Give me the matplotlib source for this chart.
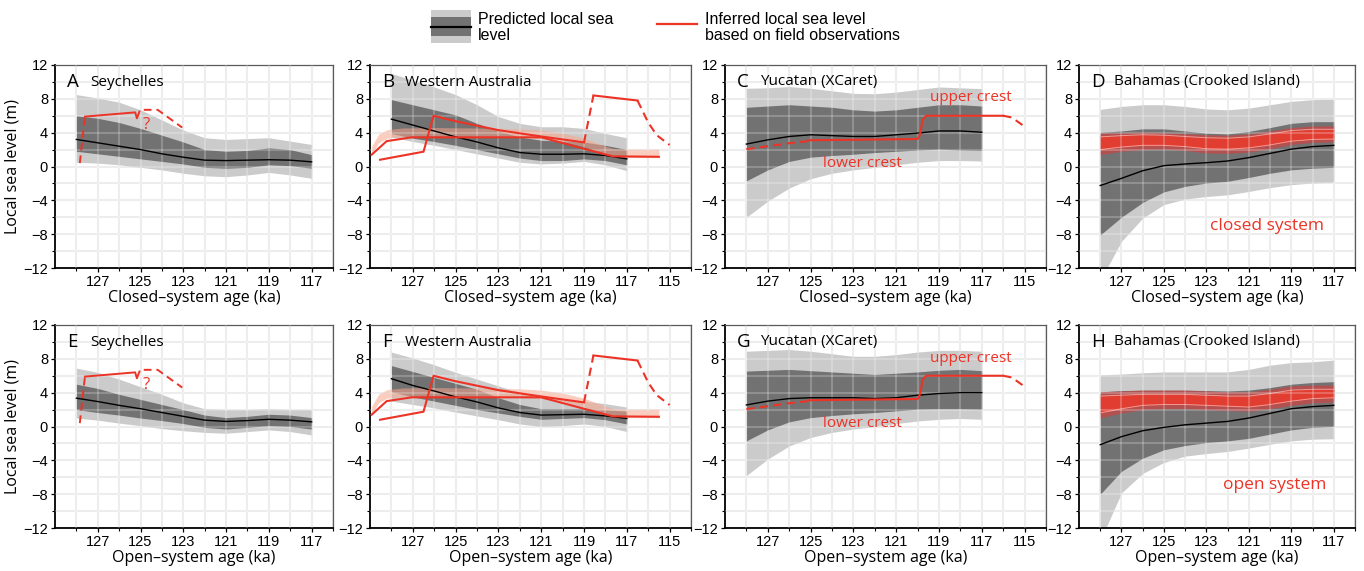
import matplotlib
matplotlib.use("Agg")
import matplotlib.pyplot as plt
from matplotlib.patches import Rectangle
from matplotlib.lines import Line2D

# ---------------------------------------------------------------- data
AGES = [128, 127, 126, 125, 124, 123, 122, 121, 120, 119, 118, 117]

# Seychelles, closed-system ages
sey_c_light_hi = [8.5, 8.1, 7.6, 6.7, 5.5, 4.3, 3.4, 3.2, 3.3, 3.4, 3.0, 2.6]
sey_c_light_lo = [0.5, 0.4, 0.2, -0.1, -0.4, -0.8, -1.1, -1.2, -1.0, -0.7, -1.0, -1.4]
sey_c_dark_hi = [6.0, 5.7, 5.2, 4.5, 3.7, 2.9, 2.0, 1.8, 1.9, 2.2, 2.0, 1.4]
sey_c_dark_lo = [1.8, 1.5, 1.2, 0.9, 0.6, 0.3, -0.1, -0.2, -0.1, 0.2, 0.1, -0.2]
sey_c_median = [3.2, 2.8, 2.4, 2.0, 1.5, 1.1, 0.75, 0.7, 0.75, 0.8, 0.75, 0.55]

# Seychelles, open-system ages
sey_o_light_hi = [6.9, 6.4, 5.6, 4.7, 3.8, 2.8, 2.1, 2.0, 2.0, 2.1, 2.0, 2.0]
sey_o_light_lo = [1.0, 0.75, 0.4, 0.1, -0.25, -0.5, -0.7, -0.8, -0.6, -0.4, -0.6, -1.0]
sey_o_dark_hi = [5.0, 4.5, 3.8, 3.2, 2.6, 2.0, 1.35, 1.05, 1.2, 1.45, 1.35, 1.05]
sey_o_dark_lo = [2.0, 1.65, 1.35, 1.0, 0.7, 0.35, -0.1, -0.3, -0.1, 0.1, 0.0, -0.3]
sey_o_median = [3.35, 2.95, 2.5, 2.1, 1.65, 1.2, 0.75, 0.6, 0.7, 0.85, 0.75, 0.55]

# Western Australia, closed-system ages
wa_c_light_hi = [11.0, 10.2, 9.4, 8.5, 7.3, 5.9, 5.1, 4.7, 4.7, 4.5, 3.9, 3.4]
wa_c_light_lo = [3.5, 2.95, 2.5, 2.0, 1.5, 1.0, 0.5, 0.3, 0.4, 0.6, 0.2, -0.5]
wa_c_dark_hi = [7.9, 7.3, 6.7, 6.1, 5.1, 4.2, 3.5, 3.1, 3.0, 2.9, 2.5, 2.0]
wa_c_dark_lo = [3.9, 3.35, 2.95, 2.5, 2.0, 1.5, 1.0, 0.7, 0.7, 0.9, 0.7, 0.2]
wa_c_median = [5.6, 4.9, 4.2, 3.5, 2.9, 2.2, 1.65, 1.45, 1.45, 1.5, 1.3, 0.9]

# Western Australia, open-system ages
wa_o_light_hi = [8.8, 8.1, 7.3, 6.4, 5.6, 4.8, 4.0, 3.5, 3.2, 3.0, 2.7, 2.3]
wa_o_light_lo = [3.0, 2.6, 2.2, 1.7, 1.25, 0.8, 0.3, 0.0, 0.1, 0.3, 0.0, -0.6]
wa_o_dark_hi = [7.2, 6.5, 5.8, 5.1, 4.4, 3.4, 2.6, 2.1, 2.1, 2.1, 2.0, 1.8]
wa_o_dark_lo = [4.1, 3.5, 3.0, 2.5, 2.0, 1.6, 1.2, 0.85, 0.95, 1.05, 0.8, 0.3]
wa_o_median = [5.65, 4.85, 4.2, 3.5, 2.9, 2.2, 1.65, 1.35, 1.4, 1.45, 1.25, 0.95]

# Yucatan (XCaret), closed-system ages
yuc_c_light_hi = [9.25, 9.3, 9.45, 9.25, 8.95, 8.65, 8.6, 8.8, 9.1, 9.4, 9.3, 9.2]
yuc_c_light_lo = [-6.0, -4.1, -2.55, -1.45, -0.8, -0.4, -0.1, 0.2, 0.5, 0.7, 0.7, 0.65]
yuc_c_dark_hi = [7.0, 7.15, 7.3, 7.15, 7.0, 6.7, 6.55, 6.7, 7.0, 7.3, 7.3, 7.15]
yuc_c_dark_lo = [-1.7, -0.4, 0.6, 1.1, 1.3, 1.45, 1.65, 1.8, 1.95, 2.05, 1.95, 1.9]
yuc_c_median = [2.65, 3.15, 3.55, 3.75, 3.65, 3.55, 3.55, 3.75, 3.95, 4.2, 4.2, 4.05]

# Yucatan (XCaret), open-system ages
yuc_o_light_hi = [8.9, 9.0, 9.1, 8.9, 8.6, 8.3, 8.3, 8.5, 8.8, 9.0, 9.0, 8.9]
yuc_o_light_lo = [-5.8, -3.85, -2.3, -1.3, -0.7, -0.3, 0.0, 0.35, 0.65, 0.85, 0.95, 0.85]
yuc_o_dark_hi = [6.55, 6.65, 6.75, 6.6, 6.45, 6.3, 6.15, 6.3, 6.45, 6.65, 6.75, 6.6]
yuc_o_dark_lo = [-1.7, -0.4, 0.55, 1.05, 1.3, 1.5, 1.65, 1.85, 2.05, 2.1, 2.1, 2.05]
yuc_o_median = [2.55, 3.0, 3.3, 3.4, 3.4, 3.4, 3.3, 3.4, 3.7, 3.9, 4.0, 4.0]

# Bahamas (Crooked Island), closed-system ages
bah_c_light_hi = [6.75, 7.1, 7.3, 7.3, 7.1, 6.8, 6.7, 6.9, 7.3, 7.7, 7.9, 7.95]
bah_c_light_lo = [-13.5, -8.85, -6.1, -4.5, -3.85, -3.55, -3.35, -2.95, -2.5, -2.15, -1.95, -1.85]
bah_c_dark_hi = [4.05, 4.2, 4.45, 4.45, 4.2, 3.95, 3.85, 4.15, 4.6, 5.1, 5.3, 5.3]
bah_c_dark_lo = [-8.1, -6.0, -4.25, -3.0, -2.35, -1.95, -1.75, -1.3, -0.8, -0.4, -0.2, -0.1]
bah_c_median = [-2.25, -1.4, -0.5, 0.1, 0.3, 0.45, 0.65, 1.05, 1.55, 2.05, 2.35, 2.5]
bah_c_obs_outer_hi = [3.95, 4.0, 4.05, 4.0, 3.9, 3.75, 3.7, 3.85, 4.2, 4.6, 4.8, 4.8]
bah_c_obs_outer_lo = [1.4, 1.8, 2.0, 2.05, 1.9, 1.6, 1.55, 1.7, 2.1, 2.6, 2.85, 2.9]
bah_c_obs_inner_hi = [3.5, 3.65, 3.75, 3.7, 3.55, 3.4, 3.35, 3.5, 3.85, 4.25, 4.4, 4.4]
bah_c_obs_inner_lo = [2.0, 2.3, 2.5, 2.5, 2.35, 2.1, 2.05, 2.2, 2.55, 3.0, 3.2, 3.25]

# Bahamas (Crooked Island), open-system ages
bah_o_light_hi = [6.1, 6.2, 6.35, 6.45, 6.45, 6.45, 6.45, 6.75, 7.25, 7.55, 7.65, 7.85]
bah_o_light_lo = [-13.5, -7.85, -5.55, -4.25, -3.5, -3.2, -2.95, -2.55, -2.1, -1.7, -1.5, -1.45]
bah_o_dark_hi = [4.1, 4.25, 4.3, 4.3, 4.3, 4.25, 4.2, 4.3, 4.6, 5.0, 5.2, 5.3]
bah_o_dark_lo = [-8.0, -5.3, -3.75, -2.75, -2.25, -1.9, -1.7, -1.4, -0.9, -0.4, -0.1, 0.0]
bah_o_median = [-2.15, -1.2, -0.5, -0.1, 0.2, 0.4, 0.6, 1.0, 1.55, 2.1, 2.35, 2.5]
bah_o_obs_outer_hi = [4.1, 4.2, 4.3, 4.3, 4.3, 4.2, 4.1, 4.1, 4.4, 4.8, 4.9, 4.9]
bah_o_obs_outer_lo = [1.0, 1.6, 2.0, 2.1, 2.1, 2.0, 1.9, 1.8, 2.1, 2.5, 2.8, 2.9]
bah_o_obs_inner_hi = [3.6, 3.7, 3.8, 3.8, 3.8, 3.7, 3.6, 3.6, 3.9, 4.3, 4.4, 4.4]
bah_o_obs_inner_lo = [1.6, 2.1, 2.5, 2.6, 2.6, 2.5, 2.4, 2.3, 2.6, 3.0, 3.3, 3.4]

# Seychelles field observations
sey_obs_solid_x = [127.6, 125.25, 125.17, 125.05]
sey_obs_solid_y = [5.9, 6.4, 5.7, 6.5]
sey_obs_dash1_x = [127.84, 127.6]
sey_obs_dash1_y = [0.4, 5.9]
sey_obs_dash2_x = [124.85, 124.2, 123.05]
sey_obs_dash2_y = [6.7, 6.7, 4.6]

# Western Australia field observations
wa_obs_a_x = [128.53, 126.5, 126.03, 125.0, 123.0, 121.0, 119.0]
wa_obs_a_y = [0.8, 1.75, 6.0, 5.35, 4.3, 3.55, 2.85]
wa_obs_rise_x = [119.0, 118.56]
wa_obs_rise_y = [2.85, 8.4]
wa_obs_top_x = [118.56, 116.5]
wa_obs_top_y = [8.4, 7.8]
wa_obs_fall_x = [116.5, 116.0, 115.6, 115.0]
wa_obs_fall_y = [7.8, 5.2, 3.7, 2.55]
wa_obs_b_x = [128.92, 128.22, 127.05, 121.0, 119.0, 117.65, 115.5]
wa_obs_b_y = [1.4, 3.0, 3.45, 3.45, 2.1, 1.2, 1.15]
wa_obs_band_x = [128.92, 128.6, 128.2, 127.5, 126.0, 124.0, 122.0, 121.0, 120.0, 119.0, 118.0, 117.6, 117.0, 115.5]
wa_obs_band_y = [1.9, 3.3, 3.85, 4.05, 4.1, 4.05, 3.95, 3.8, 3.45, 2.85, 1.9, 1.6, 1.55, 1.55]

# Yucatan field observations (lower and upper reef crest)
yuc_obs_lower_dash_x = [128.0, 127.0, 126.0, 125.12]
yuc_obs_lower_dash_y = [2.05, 2.4, 2.75, 3.0]
yuc_obs_solid_x = [125.12, 120.02, 119.95, 119.86, 119.77, 119.6, 116.0]
yuc_obs_solid_y = [3.1, 3.25, 3.4, 4.1, 5.5, 6.0, 6.0]
yuc_obs_upper_dash_x = [116.0, 115.6, 115.1]
yuc_obs_upper_dash_y = [6.0, 5.8, 4.9]

# ---------------------------------------------------------------- style
RED = "#ec3326"
LIGHT = "#cbcbcb"
DARK = "#727272"
NUM_FONT = "Liberation Sans"
TXT_FONT = "Open Sans"

W, H = 1364, 571
fig = plt.figure(figsize=(W / 100, H / 100), dpi=100)


def add_panel(left, top, width, height):
    return fig.add_axes([left / W, 1 - (top + height) / H, width / W, height / H])


def style_axes(ax, x_max_tick, xlabel, ylabel=None):
    ax.set_xlim(129, x_max_tick - 1)
    ax.set_ylim(-12, 12)
    major_x = list(range(127, x_max_tick - 1, -2))
    minor_x = list(range(128, x_max_tick - 2, -2))
    ax.set_xticks(major_x)
    ax.set_xticks(minor_x, minor=True)
    ax.set_xticklabels([str(v) for v in major_x])
    ax.set_yticks(range(-12, 13, 4))
    ax.set_yticks(range(-10, 12, 4), minor=True)
    ax.set_axisbelow(True)
    ax.grid(True, which="both", color="#e8e8e8", lw=1.5, zorder=0)
    for name in ("left", "bottom"):
        ax.spines[name].set_color("black")
        ax.spines[name].set_linewidth(1.3)
    for name in ("top", "right"):
        ax.spines[name].set_color("#5a5a5a")
        ax.spines[name].set_linewidth(0.9)
    ax.tick_params(which="major", direction="out", length=3, width=0.9,
                   labelsize=10.5, pad=2)
    ax.tick_params(which="minor", direction="out", length=2.5, width=0.8)
    for lab in ax.get_xticklabels() + ax.get_yticklabels():
        lab.set_fontfamily(NUM_FONT)
    ax.set_xlabel(xlabel, family=TXT_FONT, fontsize=11.5, labelpad=1)
    if ylabel:
        ax.set_ylabel(ylabel, family=TXT_FONT, fontsize=11.5, labelpad=2)
    # light grid lines running over the shaded bands
    for xv in range(128, x_max_tick - 1, -1):
        ax.axvline(xv, color="white", alpha=0.22, lw=1.5, zorder=3)
    for yv in range(-10, 12, 2):
        ax.axhline(yv, color="white", alpha=0.22, lw=1.5, zorder=3)


def title(ax, letter, name):
    ax.annotate(letter, xy=(0, 1), xycoords="axes fraction",
                xytext=(12, -17), textcoords="offset pixels",
                ha="left", va="center", fontsize=13.5, family=TXT_FONT)
    ax.annotate(name, xy=(0, 1), xycoords="axes fraction",
                xytext=(35, -17), textcoords="offset pixels",
                ha="left", va="center", fontsize=11, family=TXT_FONT)


def prediction(ax, light_hi, light_lo, dark_hi, dark_lo, median):
    ax.fill_between(AGES, light_lo, light_hi, color=LIGHT, lw=0, zorder=1)
    ax.fill_between(AGES, dark_lo, dark_hi, color=DARK, lw=0, zorder=2)
    ax.plot(AGES, median, color="black", lw=1.0, zorder=5)


def red_band(ax, outer_hi, outer_lo, inner_hi, inner_lo):
    ax.fill_between(AGES, outer_lo, outer_hi, color="#e03a3a", alpha=0.6, lw=0, zorder=2.5)
    ax.fill_between(AGES, inner_lo, inner_hi, color="#ea3b2c", alpha=0.85, lw=0, zorder=2.6)
    ax.plot(AGES, inner_hi, color="#f39a92", lw=0.7, zorder=2.7)
    ax.plot(AGES, inner_lo, color="#f39a92", lw=0.7, zorder=2.7)


DASH = (4, 2.5)


def seychelles_obs(ax):
    ax.plot(sey_obs_solid_x, sey_obs_solid_y, color=RED, lw=1.4, zorder=6)
    ax.plot(sey_obs_dash1_x, sey_obs_dash1_y, color=RED, lw=1.4, dashes=DASH, zorder=6)
    ax.plot(sey_obs_dash2_x, sey_obs_dash2_y, color=RED, lw=1.4, dashes=DASH, zorder=6)
    ax.text(124.75, 4.9, "?", color=RED, fontsize=12, ha="center", va="center",
            family=TXT_FONT, zorder=6)


def wa_obs(ax):
    ax.fill_between(wa_obs_band_x, [v - 0.5 for v in wa_obs_band_y],
                    [v + 0.5 for v in wa_obs_band_y],
                    color="#f7a58c", alpha=0.55, lw=0, zorder=2.8)
    ax.plot(wa_obs_a_x, wa_obs_a_y, color=RED, lw=1.5, zorder=6)
    ax.plot(wa_obs_b_x, wa_obs_b_y, color=RED, lw=1.5, zorder=6)
    ax.plot(wa_obs_rise_x, wa_obs_rise_y, color=RED, lw=1.5, dashes=DASH, zorder=6)
    ax.plot(wa_obs_top_x, wa_obs_top_y, color=RED, lw=1.5, zorder=6)
    ax.plot(wa_obs_fall_x, wa_obs_fall_y, color=RED, lw=1.5, dashes=DASH, zorder=6)


def yucatan_obs(ax, upper_y, lower_y):
    ax.plot(yuc_obs_lower_dash_x, yuc_obs_lower_dash_y, color=RED, lw=1.5,
            dashes=DASH, zorder=6)
    ax.plot(yuc_obs_solid_x, yuc_obs_solid_y, color=RED, lw=1.5, zorder=6)
    ax.plot(yuc_obs_upper_dash_x, yuc_obs_upper_dash_y, color=RED, lw=1.5,
            dashes=DASH, zorder=6)
    ax.text(117.5, upper_y, "upper crest", color=RED, fontsize=11,
            ha="center", va="center", family=TXT_FONT, zorder=7)
    ax.text(122.6, lower_y, "lower crest", color=RED, fontsize=11,
            ha="center", va="center", family=TXT_FONT, zorder=7)


ROW_TOPS = [65, 325]
PH = 203
CLOSED = "Closed\u2013system age (ka)"
OPEN = "Open\u2013system age (ka)"
YLAB = "Local sea level (m)"

for row, top in enumerate(ROW_TOPS):
    xl = CLOSED if row == 0 else OPEN
    # Seychelles
    ax = add_panel(55, top, 278, PH)
    style_axes(ax, 117, xl, YLAB)
    if row == 0:
        prediction(ax, sey_c_light_hi, sey_c_light_lo, sey_c_dark_hi, sey_c_dark_lo, sey_c_median)
    else:
        prediction(ax, sey_o_light_hi, sey_o_light_lo, sey_o_dark_hi, sey_o_dark_lo, sey_o_median)
    seychelles_obs(ax)
    title(ax, "A" if row == 0 else "E", "Seychelles")

    # Western Australia
    ax = add_panel(370, top, 321, PH)
    style_axes(ax, 115, xl)
    if row == 0:
        prediction(ax, wa_c_light_hi, wa_c_light_lo, wa_c_dark_hi, wa_c_dark_lo, wa_c_median)
    else:
        prediction(ax, wa_o_light_hi, wa_o_light_lo, wa_o_dark_hi, wa_o_dark_lo, wa_o_median)
    wa_obs(ax)
    title(ax, "B" if row == 0 else "F", "Western Australia")

    # Yucatan
    ax = add_panel(725, top, 321, PH)
    style_axes(ax, 115, xl)
    if row == 0:
        prediction(ax, yuc_c_light_hi, yuc_c_light_lo, yuc_c_dark_hi, yuc_c_dark_lo, yuc_c_median)
        yucatan_obs(ax, 8.1, 0.3)
    else:
        prediction(ax, yuc_o_light_hi, yuc_o_light_lo, yuc_o_dark_hi, yuc_o_dark_lo, yuc_o_median)
        yucatan_obs(ax, 8.0, 0.3)
    title(ax, "C" if row == 0 else "G", "Yucatan (XCaret)")

    # Bahamas
    ax = add_panel(1079, top, 276, PH)
    style_axes(ax, 117, xl)
    if row == 0:
        prediction(ax, bah_c_light_hi, bah_c_light_lo, bah_c_dark_hi, bah_c_dark_lo, bah_c_median)
        red_band(ax, bah_c_obs_outer_hi, bah_c_obs_outer_lo, bah_c_obs_inner_hi, bah_c_obs_inner_lo)
        ax.text(120.15, -7.0, "closed system", color=RED, fontsize=12.5,
                ha="center", va="center", family=TXT_FONT, zorder=7)
    else:
        prediction(ax, bah_o_light_hi, bah_o_light_lo, bah_o_dark_hi, bah_o_dark_lo, bah_o_median)
        red_band(ax, bah_o_obs_outer_hi, bah_o_obs_outer_lo, bah_o_obs_inner_hi, bah_o_obs_inner_lo)
        ax.text(119.8, -6.9, "open system", color=RED, fontsize=12.5,
                ha="center", va="center", family=TXT_FONT, zorder=7)
    title(ax, "D" if row == 0 else "H", "Bahamas (Crooked Island)")

# ---------------------------------------------------------------- legend
def fig_xy(px, py):
    return px / W, 1 - py / H

x0, y0 = fig_xy(431, 43)
fig.add_artist(Rectangle((x0, y0), 40 / W, 33 / H, transform=fig.transFigure,
                         color=LIGHT, lw=0))
x0, y0 = fig_xy(431, 36)
fig.add_artist(Rectangle((x0, y0), 40 / W, 19 / H, transform=fig.transFigure,
                         color=DARK, lw=0))
fig.add_artist(Line2D([431 / W, 471 / W], [1 - 26.5 / H] * 2,
                      transform=fig.transFigure, color="black", lw=1.6))
fig.add_artist(Line2D([657 / W, 697 / W], [1 - 24 / H] * 2,
                      transform=fig.transFigure, color=RED, lw=1.6))
for px, py, s in [(478, 19, "Predicted local sea"), (478, 35, "level"),
                  (705, 19, "Inferred local sea level"),
                  (705, 35, "based on field observations")]:
    x, y = fig_xy(px, py)
    fig.text(x, y, s, ha="left", va="center", fontsize=11.5, family=NUM_FONT)

fig.savefig("out.png", dpi=100)
